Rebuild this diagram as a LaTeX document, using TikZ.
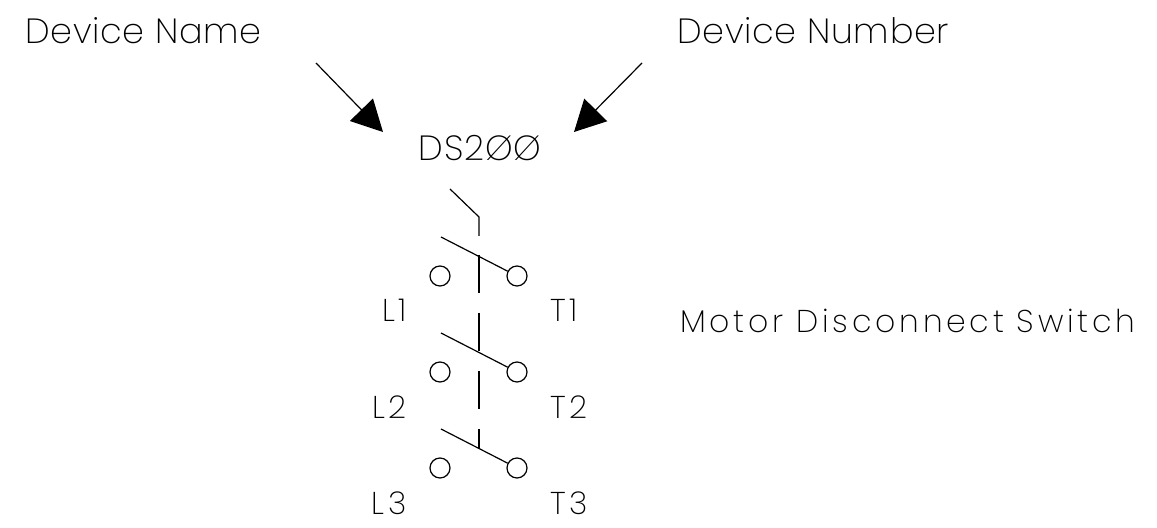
\documentclass[tikz,border=0pt]{standalone}
\usepackage{tikz}
\usetikzlibrary{arrows.meta, positioning}
\usepackage{xcolor}
\usepackage{fontspec}
\newfontfamily\cadfont{Poppins ExtraLight}
\tikzstyle{biglabel} = [inner sep=0pt, font=\cadfont\fontsize{35bp}{40bp}\selectfont\addfontfeatures{LetterSpace=2}]
\tikzstyle{smalllabel} = [inner sep=0pt, font=\cadfont\fontsize{31.5bp}{36bp}\selectfont\addfontfeatures{LetterSpace=12}]
\tikzstyle{wire} = [line width=1.2bp]
\tikzstyle{pointer} = [line width=1.2bp, -{Triangle[length=31bp, width=32bp]}]
\tikzstyle{linkage} = [line width=1.2bp, dash pattern=on 38bp off 20bp]
\tikzstyle{terminal} = [circle, draw, line width=1.2bp, minimum size=20bp, inner sep=0pt]
\begin{document}
\begin{tikzpicture}[x=1bp, y=-1bp]
\useasboundingbox (0,0) rectangle (1157,528);

% Callout labels
\node[biglabel, anchor=base west] (name_lbl) at (25,44) {Device Name};
\node[biglabel, anchor=base west] (number_lbl) at (677,44) {Device Number};
\node[biglabel, anchor=base] (tag) at (480,161) {DS2ØØ};

% Callout arrows
\coordinate (name_tail) at (316,63);
\coordinate (name_tip) at (383,132);
\coordinate (number_tail) at (642,63);
\coordinate (number_tip) at (574,132);
\draw[pointer] (name_tail) -- (name_tip);
\draw[pointer] (number_tail) -- (number_tip);

% Operating handle and linkage
\coordinate (handle) at (450,189);
\coordinate (handle_knee) at (479,217);
\coordinate (handle_end) at (479,236);
\coordinate (link_top) at (479,255);
\coordinate (link_bot) at (479,448);
\draw[wire] (handle) -- (handle_knee) -- (handle_end);
\draw[linkage] (link_top) -- (link_bot);

% Pole 1
\node[terminal] (line1) at (440,276) {};
\node[terminal] (load1) at (517,276) {};
\coordinate (blade1) at (441,237);
\draw[wire] (blade1) -- (load1);
\node[smalllabel, anchor=base east] (l1_lbl) at (407,322) {L1};
\node[smalllabel, anchor=base west] (t1_lbl) at (550,322) {T1};

% Pole 2
\node[terminal] (line2) at (440,372) {};
\node[terminal] (load2) at (517,372) {};
\coordinate (blade2) at (441,333);
\draw[wire] (blade2) -- (load2);
\node[smalllabel, anchor=base east] (l2_lbl) at (407,418) {L2};
\node[smalllabel, anchor=base west] (t2_lbl) at (550,418) {T2};

% Pole 3
\node[terminal] (line3) at (440,468) {};
\node[terminal] (load3) at (517,468) {};
\coordinate (blade3) at (441,429);
\draw[wire] (blade3) -- (load3);
\node[smalllabel, anchor=base east] (l3_lbl) at (407,514) {L3};
\node[smalllabel, anchor=base west] (t3_lbl) at (550,514) {T3};

% Device description
\node[smalllabel, anchor=base west] (desc) at (680,333) {Motor Disconnect Switch};

\end{tikzpicture}
\end{document}
